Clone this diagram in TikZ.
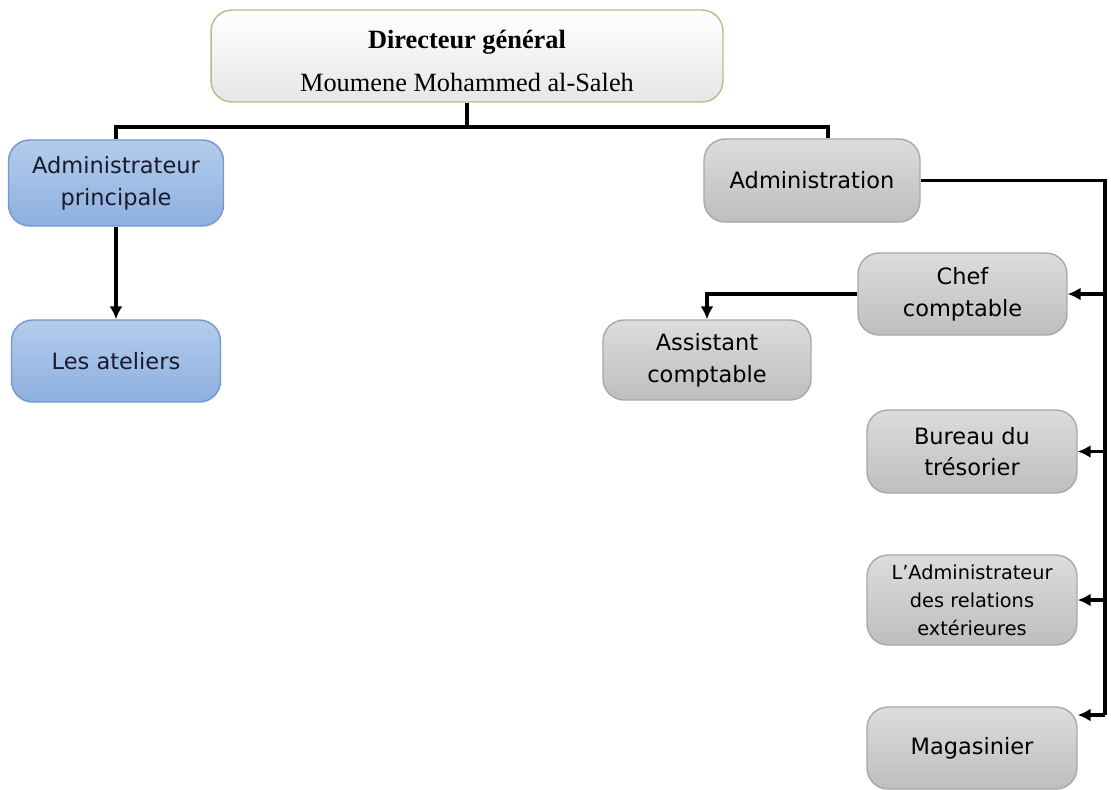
\documentclass[tikz,border=0pt]{standalone}
\usepackage{fontspec}
\setmainfont{DejaVu Sans}
\newfontfamily\dirfont{Liberation Serif}
\usepackage{tikz}
\usetikzlibrary{arrows.meta,positioning,calc}
\definecolor{Ink}{HTML}{1A1A2E}
\definecolor{BlueTop}{HTML}{B3CCEC}
\definecolor{BlueBot}{HTML}{8DB0DF}
\definecolor{BlueLine}{HTML}{7399CB}
\definecolor{GrayTop}{HTML}{DCDCDC}
\definecolor{GrayBot}{HTML}{BEBEBE}
\definecolor{GrayLine}{HTML}{A8A8A8}
\definecolor{GreenLine}{HTML}{A9C47F}
\definecolor{DirBot}{HTML}{E6E6E6}
\tikzset{
  unit/.style={rounded corners=12pt,align=center,inner sep=2pt,
    font=\fontsize{12.8}{18}\selectfont},
  unitblue/.style={unit,draw=BlueLine,thick,top color=BlueTop,bottom color=BlueBot,text=Ink},
  unitgray/.style={unit,draw=GrayLine,thick,top color=GrayTop,bottom color=GrayBot,text=black},
  unittop/.style={unit,draw=GreenLine,thick,top color=white,bottom color=DirBot,text=black,
    font=\dirfont\fontsize{15}{24}\selectfont},
  link/.style={line width=2pt,draw=black},
  arrow/.style={link,-{Latex[length=2.6mm,width=2.6mm]}}
}
\begin{document}
\begin{tikzpicture}[x=0.02cm,y=-0.02cm]
  \useasboundingbox (0,0) rectangle (1111,789);
  % head
  \node[unittop,minimum width=10.24cm,minimum height=1.84cm] (dg) at (467,56)
    {\rule{0pt}{16pt}\textbf{Directeur général}\\Moumene Mohammed al-Saleh};
  % left branch
  \node[unitblue,minimum width=4.3cm,minimum height=1.72cm] (adp) at (116,183)
    {Administrateur\\principale};
  \node[unitblue,minimum width=4.18cm,minimum height=1.64cm] (ate) at (116,361)
    {Les ateliers};
  % right branch
  \node[unitgray,minimum width=4.32cm,minimum height=1.66cm] (adm) at (812,180.5)
    {Administration};
  \node[unitgray,minimum width=4.18cm,minimum height=1.64cm] (chef) at (962.5,294)
    {Chef\\comptable};
  \node[unitgray,minimum width=4.16cm,minimum height=1.6cm] (asst) at (707,360)
    {Assistant\\comptable};
  \node[unitgray,minimum width=4.2cm,minimum height=1.66cm] (bur) at (972,451.5)
    {Bureau du\\trésorier};
  \node[unitgray,minimum width=4.2cm,minimum height=1.8cm,font=\fontsize{11}{16}\selectfont] (rel) at (972,600)
    {L’Administrateur\\des relations\\extérieures};
  \node[unitgray,minimum width=4.2cm,minimum height=1.64cm] (mag) at (972,748)
    {Magasinier};
  % connectors
  \coordinate (split) at (dg.south |- 0,127);
  \coordinate (admtop) at ($(adm.north)+(16,0)$);
  \coordinate (bus) at (1105,180.5);
  \coordinate (busend) at (1105,715);
  \draw[link] (dg.south) -- (split);
  \draw[link] (adp.north) |- (split) -| (admtop);
  \draw[arrow] (adp.south) -- (ate.north);
  \draw[link] (adm.east) -- (bus) -- (busend);
  \draw[arrow] (chef.east -| bus) -- (chef.east);
  \draw[arrow] (bur.east -| bus) -- (bur.east);
  \draw[arrow] (rel.east -| bus) -- (rel.east);
  \draw[arrow] (busend) -- (busend -| mag.east);
  \draw[arrow] (chef.west) -| (asst.north);
\end{tikzpicture}
\end{document}
